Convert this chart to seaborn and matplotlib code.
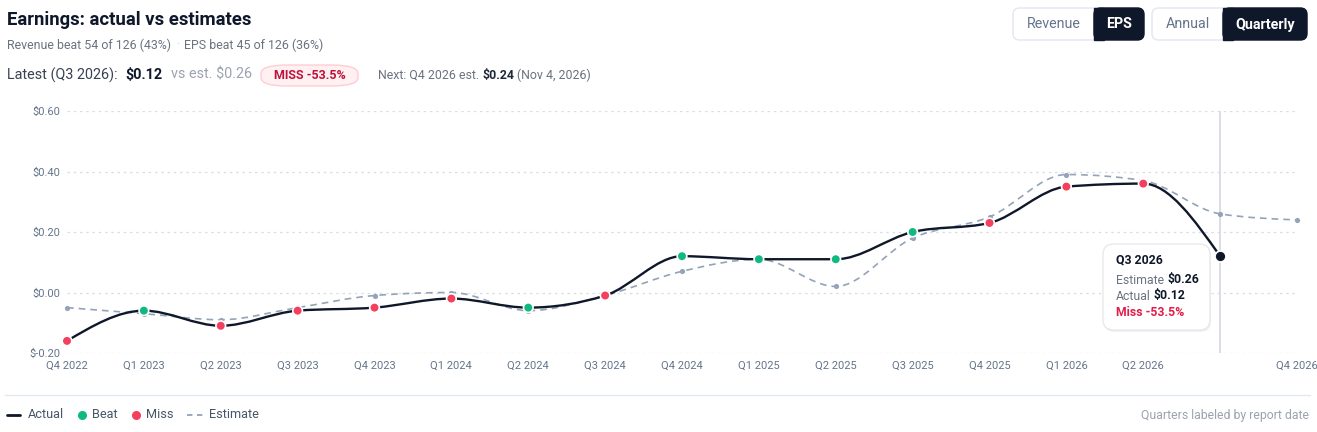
import numpy as np
import pandas as pd
import matplotlib
matplotlib.use('Agg')
import matplotlib.pyplot as plt
from matplotlib.path import Path
from matplotlib.patches import PathPatch, FancyBboxPatch, Rectangle
from matplotlib.lines import Line2D
import seaborn as sns

# Chart data
quarters = ["Q4 2022", "Q1 2023", "Q2 2023", "Q3 2023", "Q4 2023", "Q1 2024",
            "Q2 2024", "Q3 2024", "Q4 2024", "Q1 2025", "Q2 2025", "Q3 2025",
            "Q4 2025", "Q1 2026", "Q2 2026", "Q3 2026", "Q4 2026"]
tick_labels = ["Q4 2022", "Q1 2023", "Q2 2023", "Q3 2023", "Q4 2023", "Q1 2024",
               "Q2 2024", "Q3 2024", "Q4 2024", "Q1 2025", "Q2 2025", "Q3 2025",
               "Q4 2025", "Q1 2026", "Q2 2026", "", "Q4 2026"]
actual = [-0.16, -0.06, -0.11, -0.06, -0.05, -0.02, -0.05, -0.01, 0.12, 0.11,
          0.11, 0.20, 0.23, 0.35, 0.36, 0.12]
estimate = [-0.05, -0.07, -0.09, -0.05, -0.01, 0.00, -0.06, -0.01, 0.07, 0.11,
            0.02, 0.18, 0.25, 0.39, 0.37, 0.26, 0.24]
status = ["Miss", "Beat", "Miss", "Miss", "Miss", "Miss", "Beat", "Miss", "Beat",
          "Beat", "Beat", "Beat", "Miss", "Miss", "Miss", "Latest"]
y_ticks = [-0.20, 0.00, 0.20, 0.40, 0.60]

DARK = "#0f172a"
GREEN = "#10b981"
RED = "#f43f5e"
GRAY_EST = "#94a3b8"
TICK = "#64748b"

W, H = 1317, 432

sns.set_theme(style="white")
plt.rcParams['font.family'] = ['Roboto', 'DejaVu Sans']

fig = plt.figure(figsize=(W / 100, H / 100), dpi=100)
fig.patch.set_facecolor("white")


def fx(x):
    return x / W


def fy(y):
    return 1 - y / H


def monotone_path(xs, ys):
    # cubic bezier path with monotone-x tangents (like d3.curveMonotoneX)
    xs = np.asarray(xs, float)
    ys = np.asarray(ys, float)
    n = len(xs)
    h = np.diff(xs)
    s = np.diff(ys) / h
    t = np.zeros(n)
    for i in range(1, n - 1):
        p = (s[i - 1] * h[i] + s[i] * h[i - 1]) / (h[i - 1] + h[i])
        t[i] = (np.sign(s[i - 1]) + np.sign(s[i])) * min(abs(s[i - 1]), abs(s[i]), 0.5 * abs(p))
    t[0] = (3 * s[0] - t[1]) / 2
    t[-1] = (3 * s[-1] - t[-2]) / 2
    verts = [(xs[0], ys[0])]
    codes = [Path.MOVETO]
    for i in range(n - 1):
        d = h[i] / 3
        verts += [(xs[i] + d, ys[i] + d * t[i]), (xs[i + 1] - d, ys[i + 1] - d * t[i + 1]),
                  (xs[i + 1], ys[i + 1])]
        codes += [Path.CURVE4] * 3
    return Path(verts, codes)


# ---- main axes ----
ax = fig.add_axes([fx(67), fy(353), fx(1297) - fx(67), fy(111) - fy(353)])
ax.set_facecolor("white")
for sp in ax.spines.values():
    sp.set_visible(False)

x_act = np.arange(len(actual))
x_est = np.arange(len(estimate))

for v in y_ticks:
    ax.axhline(v, color="#d9dee6", lw=0.9, ls=(0, (2, 3)), zorder=0)
ax.axvline(15, color="#d7dbe0", lw=1.3, zorder=1)

ax.add_patch(PathPatch(monotone_path(x_est, estimate), fill=False, edgecolor=GRAY_EST,
                       lw=1.2, ls=(0, (4, 3)), zorder=2, clip_on=False))
ax.add_patch(PathPatch(monotone_path(x_act, actual), fill=False, edgecolor=DARK,
                       lw=1.7, zorder=3, clip_on=False, capstyle="round"))

est_df = pd.DataFrame({"x": x_est, "estimate": estimate})
sns.scatterplot(data=est_df, x="x", y="estimate", ax=ax, color=GRAY_EST, s=14,
                linewidth=0, zorder=4, clip_on=False, legend=False)

pts = pd.DataFrame({"x": x_act, "actual": actual, "status": status})
sns.scatterplot(data=pts[pts.status != "Latest"], x="x", y="actual", hue="status",
                palette={"Beat": GREEN, "Miss": RED}, s=48, edgecolor="white",
                linewidth=1.2, ax=ax, zorder=5, clip_on=False, legend=False)
sns.scatterplot(data=pts[pts.status == "Latest"], x="x", y="actual", color=DARK, s=62,
                edgecolor="white", linewidth=1.2, ax=ax, zorder=6, clip_on=False, legend=False)

ax.set_xlim(0, len(quarters) - 1)
ax.set_ylim(-0.2, 0.6)
ax.set_xticks(x_est)
ax.set_xticklabels(tick_labels)
ax.set_yticks(y_ticks)
ax.set_yticklabels([f"${v:.2f}" for v in y_ticks])
ax.tick_params(axis="both", length=0, labelsize=8, labelcolor=TICK)
ax.tick_params(axis="x", pad=5.5)
ax.tick_params(axis="y", pad=4.5)
ax.set_xlabel("")
ax.set_ylabel("")

# ---- header ----
renderer = fig.canvas.get_renderer()


def put(x, y, s, size, color, weight="normal", **kw):
    t = fig.text(fx(x), fy(y), s, fontsize=size, color=color, fontweight=weight,
                 va="center", ha="left", **kw)
    return t.get_window_extent(renderer).x1


fig.text(fx(7), fy(20), "Earnings: actual vs estimates", fontsize=13.3, fontweight="bold",
         color=DARK, va="center", ha="left")
x = put(7, 45, "Revenue beat 54 of 126 (43%)", 8.9, "#6b7280")
x = put(x + 5, 45, "·", 8.9, "#c0c6cf")
put(x + 5, 45, "EPS beat 45 of 126 (36%)", 8.9, "#6b7280")

x = put(7, 75, "Latest (Q3 2026):", 10.4, "#374151")
x = put(x + 8, 75, "$0.12", 10.4, DARK, "bold")
x = put(x + 8, 75, "vs est. $0.26", 10.4, "#9ca3af")
badge = FancyBboxPatch((fx(261), fy(86)), fx(97), fy(65) - fy(86),
                       boxstyle="round,pad=0,rounding_size=0.02", transform=fig.transFigure,
                       facecolor="#fff1f2", edgecolor="#fecdd3", lw=1.0, mutation_aspect=H / W * 3)
fig.patches.append(badge)
fig.text(fx(309.5), fy(75.5), "MISS -53.5%", fontsize=9, fontweight="bold",
         color="#be123c", va="center", ha="center")
x = put(378, 75, "Next: Q4 2026 est.", 8.9, "#6b7280")
x = put(x + 3, 75, "$0.24", 8.9, "#1f2937", "bold")
put(x + 3, 75, "(Nov 4, 2026)", 8.9, "#6b7280")


# ---- toggle buttons ----
def button_group(x0, x_split, x1, left_label, right_label):
    y0, y1 = 8, 40
    outer = FancyBboxPatch((fx(x0), fy(y1)), fx(x1 - x0), fy(y0) - fy(y1),
                           boxstyle="round,pad=0,rounding_size=0.005", transform=fig.transFigure,
                           facecolor="white", edgecolor="#e2e8f0", lw=1.0,
                           mutation_aspect=W / H)
    fig.patches.append(outer)
    dark = FancyBboxPatch((fx(x_split), fy(y1)), fx(x1 - x_split), fy(y0) - fy(y1),
                          boxstyle="round,pad=0,rounding_size=0.005", transform=fig.transFigure,
                          facecolor=DARK, edgecolor=DARK, lw=1.0, mutation_aspect=W / H)
    fig.patches.append(dark)
    fig.patches.append(Rectangle((fx(x_split), fy(y1)), fx(10), fy(y0) - fy(y1),
                                 transform=fig.transFigure, facecolor=DARK, edgecolor=DARK, lw=1.0))
    fig.text(fx((x0 + x_split) / 2), fy(24.5), left_label, fontsize=10.3, color="#64748b",
             va="center", ha="center")
    fig.text(fx((x_split + x1) / 2), fy(24.5), right_label, fontsize=10.3, color="white",
             fontweight="bold", va="center", ha="center")


button_group(1013, 1094, 1144, "Revenue", "EPS")
button_group(1152, 1223, 1307, "Annual", "Quarterly")

# ---- tooltip ----
shadow = FancyBboxPatch((fx(1104), fy(332)), fx(107), fy(246) - fy(332),
                        boxstyle="round,pad=0,rounding_size=0.008", transform=fig.transFigure,
                        facecolor="#e5e7eb", edgecolor="none", alpha=0.6, mutation_aspect=W / H)
fig.patches.append(shadow)
tip = FancyBboxPatch((fx(1103), fy(330)), fx(107), fy(244) - fy(330),
                     boxstyle="round,pad=0,rounding_size=0.008", transform=fig.transFigure,
                     facecolor="white", edgecolor="#e5e7eb", lw=0.9, mutation_aspect=W / H)
fig.patches.append(tip)
put(1116, 260, "Q3 2026", 8.8, DARK, "bold")
x = put(1116, 280, "Estimate", 8.8, "#6b7280")
put(x + 3, 280, "$0.26", 8.8, DARK, "bold")
x = put(1116, 296, "Actual", 8.8, "#6b7280")
put(x + 3, 296, "$0.12", 8.8, DARK, "bold")
put(1116, 313, "Miss -53.5%", 8.8, "#e11d48", "bold")

# ---- footer / legend ----
fig.add_artist(Line2D([fx(5), fx(1310)], [fy(395), fy(395)], color="#e2e8f0", lw=1.0))
fig.add_artist(Line2D([fx(7), fx(20)], [fy(415), fy(415)], color=DARK, lw=2.0))
put(28, 415, "Actual", 9.2, "#475569")
fig.add_artist(Line2D([fx(82)], [fy(415)], marker="o", color=GREEN, markersize=5.5, lw=0))
put(92, 415, "Beat", 9.2, "#475569")
fig.add_artist(Line2D([fx(136)], [fy(415)], marker="o", color=RED, markersize=5.5, lw=0))
put(146, 415, "Miss", 9.2, "#475569")
fig.add_artist(Line2D([fx(187), fx(203)], [fy(415), fy(415)], color=GRAY_EST, lw=1.3,
                      ls=(0, (3, 2.5))))
put(209, 415, "Estimate", 9.2, "#475569")
fig.text(fx(1309), fy(415), "Quarters labeled by report date", fontsize=8.8, color="#9ca3af",
         va="center", ha="right")

fig.savefig("out.png", dpi=100, facecolor="white")
